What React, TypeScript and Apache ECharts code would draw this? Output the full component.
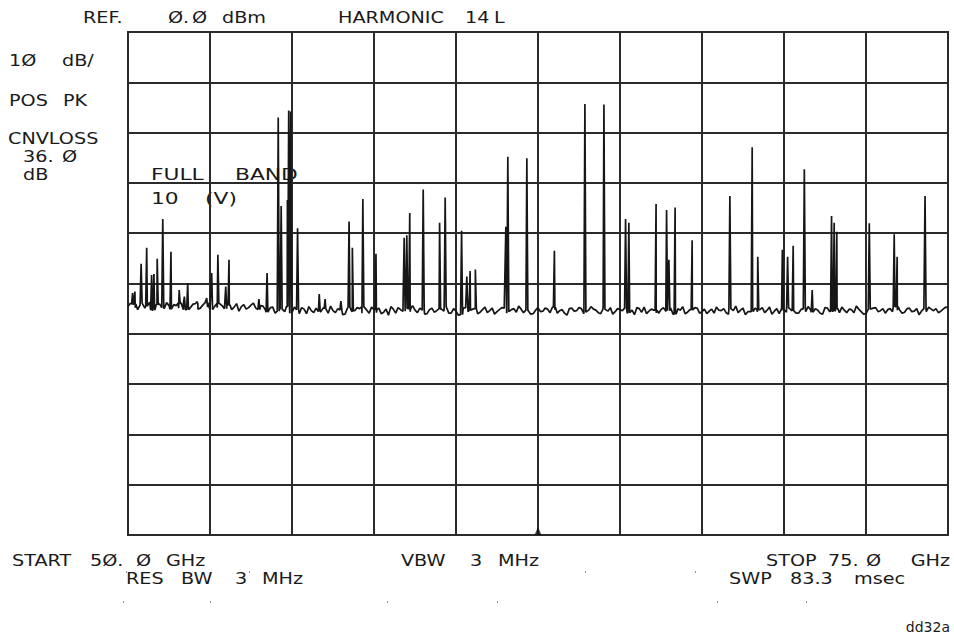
import React, { useEffect, useRef } from "react";
import * as echarts from "echarts";

// Sweep settings
const START_GHZ = 50;
const STOP_GHZ = 75;
const REF_DBM = 0;
const BOTTOM_DBM = -100;
const DB_PER_DIV = 10;
const FREQ_PER_DIV = 2.5;
const MARKER_GHZ = 62.5;

// Noise floor samples (dBm), evenly spaced from START to STOP
const noiseFloorDbm = [
  -54.6,-54.1,-55.2,-53.9,-54.5,-55.3,-54.2,-54.8,-53.8,-55.1,
  -54.4,-53.9,-55.2,-54.7,-54.0,-54.9,-53.8,-55.2,-54.5,-54.0,
  -55.0,-54.3,-54.7,-55.5,-54.2,-54.8,-53.9,-55.2,-54.5,-55.7,
  -54.7,-55.5,-55.1,-54.6,-55.9,-55.2,-54.8,-56.0,-55.4,-54.9,
  -55.6,-55.0,-54.5,-55.8,-55.3,-56.1,-54.7,-55.4,-55.0,-54.6,
  -55.9,-55.2,-54.9,-55.7,-56.3,-55.1,-54.8,-55.5,-55.0,-54.4,
  -55.8,-55.3,-56.0,-54.9,-55.4,-55.1,-54.6,-55.9,-55.5,-56.2,
  -54.8,-55.3,-55.0,-55.7,-54.7,-55.4,-56.1,-55.2,-54.9,-55.6,
  -55.0,-54.5,-55.8,-55.3,-56.0,-54.8,-55.5,-55.1,-54.7,-55.9,
  -55.2,-56.3,-54.9,-55.4,-55.0,-55.7,-54.6,-55.3,-56.0,-55.1,
  -54.8,-55.6,-55.2,-54.9,-55.8,-56.2,-55.0,-54.7,-55.5,-55.3,
  -55.9,-54.8,-55.4,-56.1,-55.0,-54.6,-55.7,-55.2,-54.9,-55.6,
  -56.0,-55.1,-54.7,-55.4,-55.8,-55.0,-54.5,-55.3,-56.2,-55.6,
  -54.9,-55.2,-55.8,-54.7,-55.5,-56.0,-55.1,-54.8,-55.4,-55.9,
  -55.0,-54.6,-55.7,-55.3,-56.1,-54.9,-55.5,-55.0,-54.7,-55.8,
  -55.2,-54.5,-55.6,-56.0,-55.1,-54.8,-55.4,-55.9,-55.0,-54.6,
  -55.3,-55.7,-54.9,-55.5,-56.2,-55.0,-54.7,-55.4,-55.8,-55.1,
  -54.8
];

// Noise samples half-way between the samples above (dBm)
const noiseFloorMidDbm = [
  -53.9,-54.8,-54.3,-54.9,-53.7,-54.6,-54.0,-55.0,-54.4,-54.2,
  -54.9,-53.8,-54.5,-54.1,-55.1,-54.3,-54.7,-53.9,-54.8,-54.4,
  -54.1,-55.2,-54.0,-54.6,-55.1,-54.3,-54.9,-54.4,-55.3,-54.8,
  -55.9,-54.6,-55.6,-55.3,-54.7,-56.0,-55.1,-54.6,-55.8,-55.2,
  -54.8,-55.9,-55.4,-55.0,-56.2,-54.9,-55.6,-54.8,-55.9,-55.3,
  -54.7,-55.8,-56.0,-55.1,-54.6,-55.9,-55.2,-54.8,-55.6,-55.3,
  -54.9,-56.1,-55.2,-55.7,-54.8,-55.5,-55.9,-55.0,-56.3,-54.9,
  -55.6,-55.1,-56.0,-55.2,-55.8,-54.9,-55.6,-54.8,-55.9,-55.2,
  -55.7,-55.1,-54.7,-56.1,-55.3,-55.6,-54.9,-55.8,-55.2,-55.4,
  -55.9,-55.0,-55.5,-54.8,-56.0,-55.3,-55.1,-55.8,-54.7,-55.5,
  -56.1,-55.0,-55.4,-55.9,-55.3,-54.8,-55.7,-56.0,-55.1,-55.8,
  -55.2,-55.6,-54.9,-55.7,-55.3,-56.0,-55.2,-54.8,-55.9,-55.1,
  -55.5,-55.9,-55.3,-55.0,-56.1,-55.4,-55.8,-54.9,-55.6,-55.0,
  -55.6,-54.8,-55.3,-56.1,-55.0,-55.4,-55.7,-55.3,-55.9,-55.2,
  -55.6,-55.2,-55.0,-55.9,-54.8,-55.6,-55.1,-55.8,-55.3,-55.1,
  -55.8,-55.1,-56.1,-55.2,-54.9,-55.6,-55.0,-55.2,-55.6,-55.3,
  -55.9,-55.0,-55.6,-55.0,-55.5,-55.6,-55.1,-55.0,-55.5,-54.7
];

// Spurious / harmonic peaks: frequency (GHz) and level (dBm)
const peakFreqGHz = [
  50.14, 50.21, 50.40, 50.57, 50.72, 50.79, 50.89, 51.06, 51.31, 51.56,
  51.72, 51.82, 52.10, 52.40, 52.55, 52.74, 52.98, 53.08, 53.99, 54.24,
  54.58, 54.67, 54.86, 54.90, 54.96, 55.17, 55.83, 56.01, 56.49, 56.74,
  56.84, 57.16, 57.56, 58.42, 58.50, 58.59, 59.00, 59.50, 59.67, 60.17,
  60.33, 60.43, 60.59, 61.52, 61.58, 62.16, 63.00, 63.93, 64.51, 65.17,
  65.27, 66.10, 66.42, 66.49, 66.68, 67.20, 68.35, 69.03, 69.20, 69.95,
  70.11, 70.28, 70.62, 70.86, 71.45, 71.53, 71.61, 72.60, 73.36, 73.45,
  74.30
];
const peakLevelDbm = [
  -51.9, -51.6, -46.1, -42.9, -48.3, -48.1, -45.1, -37.2, -43.7, -51.3,
  -52.6, -49.9, -53.6, -52.9, -47.9, -44.3, -50.6, -45.3, -53.1, -47.9,
  -17.0, -34.6, -33.4, -15.6, -15.8, -39.0, -52.1, -53.1, -53.5, -37.7,
  -42.9, -33.2, -44.1, -40.9, -40.4, -36.0, -31.3, -37.9, -32.9, -39.5,
  -48.6, -47.5, -47.2, -38.7, -24.8, -25.1, -43.5, -14.3, -14.4, -37.2,
  -37.9, -34.2, -35.4, -45.3, -34.9, -41.4, -32.6, -22.9, -44.7, -43.3,
  -44.7, -42.5, -27.3, -51.3, -36.6, -37.9, -39.7, -38.0, -40.2, -44.7,
  -32.6
];

const FONT = "DejaVu Sans";

function buildTrace(): number[][] {
  const pts: number[][] = [];
  const n = noiseFloorDbm.length;
  const step = (STOP_GHZ - START_GHZ) / (n - 1);
  noiseFloorDbm.forEach((v, i) => pts.push([START_GHZ + i * step, v]));
  noiseFloorMidDbm.forEach((v, i) => pts.push([START_GHZ + (i + 0.5) * step, v]));
  const half = 0.03;
  peakFreqGHz.forEach((f, i) => {
    const idx = Math.min(n - 1, Math.max(0, Math.round((f - START_GHZ) / step)));
    const base = noiseFloorDbm[idx];
    pts.push([f - half, base]);
    pts.push([f, peakLevelDbm[i]]);
    pts.push([f + half, base]);
  });
  pts.sort((a, b) => a[0] - b[0]);
  return pts;
}

function txt(text: string, x: number, y: number, size = 16, sx = 1.2, align = "left") {
  return {
    type: "text",
    x,
    y,
    scaleX: sx,
    silent: true,
    style: {
      text,
      fontFamily: FONT,
      fontSize: size,
      fill: "#1a1a1a",
      textAlign: align,
      textVerticalAlign: "middle",
    },
  };
}

function dot(x: number, y: number) {
  return { type: "rect", silent: true, shape: { x, y, width: 1, height: 2 }, style: { fill: "#999" } };
}

export default function App() {
  const ref = useRef<HTMLDivElement>(null);
  useEffect(() => {
    if (!ref.current) return;
    const chart = echarts.init(ref.current, undefined, { renderer: "svg" });
    const gridLine = { color: "#2b2b2b", width: 2 };
    chart.setOption({
      animation: false,
      backgroundColor: "#ffffff",
      grid: { left: 128, top: 32, width: 820, height: 503, show: true, borderColor: "#2b2b2b", borderWidth: 2 },
      xAxis: {
        type: "value",
        min: START_GHZ,
        max: STOP_GHZ,
        interval: FREQ_PER_DIV,
        axisLine: { show: false },
        axisTick: { show: false },
        axisLabel: { show: false },
        splitLine: { show: true, lineStyle: gridLine },
      },
      yAxis: {
        type: "value",
        min: BOTTOM_DBM,
        max: REF_DBM,
        interval: DB_PER_DIV,
        axisLine: { show: false },
        axisTick: { show: false },
        axisLabel: { show: false },
        splitLine: { show: true, lineStyle: gridLine },
      },
      series: [
        {
          type: "line",
          data: buildTrace(),
          showSymbol: false,
          symbol: "none",
          lineStyle: { color: "#161616", width: 1.7 },
          z: 3,
        },
        {
          type: "scatter",
          data: [[MARKER_GHZ, BOTTOM_DBM]],
          symbol: "triangle",
          symbolSize: [7, 8],
          symbolOffset: [0, -4],
          itemStyle: { color: "#111" },
          z: 4,
        },
      ],
      graphic: [
        txt("REF.", 83, 18),
        txt("Ø.", 168, 18),
        txt("Ø", 192, 18),
        txt("dBm", 222, 18),
        txt("HARMONIC", 338, 18),
        txt("14", 465, 18),
        txt("L", 494, 18),
        txt("1Ø", 9, 61),
        txt("dB/", 62, 61),
        txt("POS", 9, 101),
        txt("PK", 63, 101),
        txt("CNVLOSS", 8, 139),
        txt("36.", 23, 157),
        txt("Ø", 62, 157),
        txt("dB", 23, 175),
        txt("FULL", 151, 174, 16.5, 1.32),
        txt("BAND", 235, 174, 16.5, 1.32),
        txt("10", 151, 198, 16.5, 1.32),
        txt("(V)", 205, 198, 16.5, 1.32),
        txt("START", 12, 561),
        txt("5Ø.", 90, 561),
        txt("Ø", 136, 561),
        txt("GHz", 166, 561),
        txt("RES", 126, 579),
        txt("BW", 181, 579),
        txt("3", 235, 579),
        txt("MHz", 262, 579),
        txt("VBW", 401, 561),
        txt("3", 470, 561),
        txt("MHz", 498, 561),
        txt("STOP", 766, 561),
        txt("75.", 828, 561),
        txt("Ø", 866, 561),
        txt("GHz", 950, 561, 16, 1.2, "right"),
        txt("SWP", 729, 579),
        txt("83.3", 790, 579),
        txt("msec", 905, 579, 16, 1.2, "right"),
        txt("dd32a", 950, 627, 14, 1.0, "right"),
        dot(126, 571),
        dot(249, 571),
        dot(585, 571),
        dot(695, 571),
        dot(123, 601),
        dot(210, 601),
        dot(387, 601),
        dot(497, 601),
        dot(717, 601),
        dot(806, 601),
      ],
    });
    return () => chart.dispose();
  }, []);
  return <div ref={ref} style={{ position: "absolute", left: 0, top: 0, width: 954, height: 640 }} />;
}
